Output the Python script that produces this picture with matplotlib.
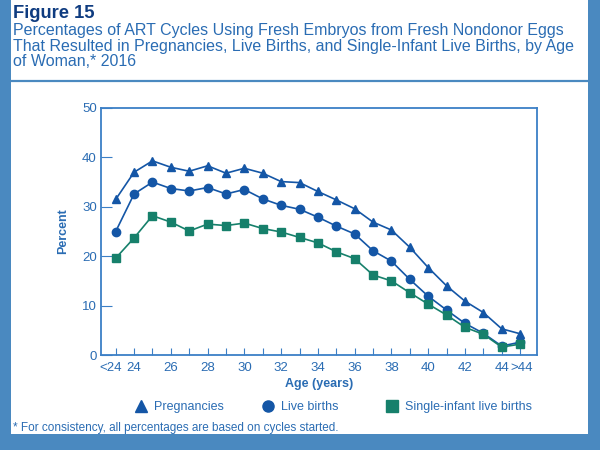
import matplotlib
matplotlib.use("Agg")
import matplotlib.pyplot as plt
from matplotlib.lines import Line2D
from matplotlib.patches import Rectangle
from matplotlib.transforms import ScaledTranslation

plt.rcParams['font.family'] = ['Liberation Sans', 'DejaVu Sans']

ages = ["<24", "24", "25", "26", "27", "28", "29", "30", "31", "32", "33", "34",
        "35", "36", "37", "38", "39", "40", "41", "42", "43", "44", ">44"]
shown_labels = ["<24", "24", "26", "28", "30", "32", "34", "36", "38", "40", "42", "44", ">44"]
pregnancies = [31.5, 37.0, 39.3, 38.0, 37.2, 38.3, 36.8, 37.8, 36.8, 35.1, 34.9, 33.1,
               31.4, 29.6, 26.9, 25.3, 21.8, 17.7, 14.0, 10.9, 8.6, 5.3, 4.3]
live_births = [25.0, 32.6, 35.0, 33.7, 33.2, 33.9, 32.6, 33.5, 31.6, 30.3, 29.5, 27.9,
               26.1, 24.5, 21.1, 19.0, 15.3, 11.9, 9.1, 6.4, 4.4, 1.8, 2.6]
single_births = [19.6, 23.7, 28.2, 26.9, 25.1, 26.5, 26.2, 26.7, 25.6, 24.9, 23.8, 22.7,
                 20.9, 19.5, 16.2, 15.0, 12.6, 10.3, 8.1, 5.6, 4.2, 1.6, 2.2]
series_names = ['Pregnancies', 'Live births', 'Single-infant live births']

BORDER = '#4a89c0'
TEXT = '#2a6cb3'
SPINE = '#3b7fc6'
DARK = '#1456a6'
GREEN = '#16806b'

fig = plt.figure(figsize=(6, 4.5), dpi=100, facecolor=BORDER)
fig.patches.append(Rectangle((11/600, 1-434/450), 577/600, 434/450,
                             transform=fig.transFigure, facecolor='white',
                             edgecolor='none', zorder=-10))
fig.add_artist(Line2D([11/600, 588/600], [1-81/450, 1-81/450],
                      transform=fig.transFigure, color=BORDER, lw=1.6))

fig.text(13/600, 1-13/450, "Figure 15", fontsize=13.2, fontweight='bold',
         color='#0f3c80', va='center', ha='left')
title = ("Percentages of ART Cycles Using Fresh Embryos from Fresh Nondonor Eggs\n"
         "That Resulted in Pregnancies, Live Births, and Single-Infant Live Births, by Age\n"
         "of Woman,* 2016")
fig.text(13/600, 1-23/450, title, fontsize=11.5, color=TEXT, va='top', ha='left',
         linespacing=1.06)

ax = fig.add_axes([101/600, 1-355/450, 436/600, 247/450])
ax.set_zorder(5)
ax.patch.set_alpha(0)
x = list(range(len(ages)))
ax.plot(x, pregnancies, color=DARK, lw=1.2, marker='^', ms=6.2, label=series_names[0])
ax.plot(x, live_births, color=DARK, lw=1.2, marker='o', ms=6.0, label=series_names[1])
ax.plot(x, single_births, color=GREEN, lw=1.2, marker='s', ms=6.0,
        markeredgecolor=GREEN, label=series_names[2])

ax.set_xlim(-0.8, 22.92)
ax.set_ylim(0, 50)
ax.set_yticks([0, 10, 20, 30, 40, 50])
ax.set_xticks(x)
ax.set_xticklabels([a if a in shown_labels else "" for a in ages])
for s in ax.spines.values():
    s.set_color(SPINE)
    s.set_linewidth(1.3)
ax.tick_params(axis='y', direction='in', length=8, width=0.8, color=SPINE,
               labelcolor=TEXT, labelsize=9.5, pad=3)
ax.tick_params(axis='x', direction='in', length=5, width=0.8, color=SPINE,
               labelcolor=TEXT, labelsize=9.5, pad=5)
labs = ax.get_xticklabels()
labs[0].set_transform(labs[0].get_transform() + ScaledTranslation(-5/100, 0, fig.dpi_scale_trans))
labs[-1].set_transform(labs[-1].get_transform() + ScaledTranslation(2/100, 0, fig.dpi_scale_trans))
ax.set_xlabel("Age (years)", fontsize=9, fontweight='bold', color=TEXT, labelpad=3)
ax.set_ylabel("Percent", fontsize=9, fontweight='bold', color=TEXT, labelpad=9)

handles = [Line2D([], [], color=DARK, marker='^', ls='none', ms=8),
           Line2D([], [], color=DARK, marker='o', ls='none', ms=8),
           Line2D([], [], color=GREEN, marker='s', ls='none', ms=8)]
anchors = [135, 262, 386]
for h, name, ax_x in zip(handles, series_names, anchors):
    fig.legend([h], [name], loc='center left', bbox_to_anchor=(ax_x/600, 1-407/450),
               frameon=False, borderpad=0, borderaxespad=0,
               handlelength=1.0, handletextpad=0.5,
               prop={'size': 9}, labelcolor=TEXT)

fig.text(13/600, 1-428/450, "* For consistency, all percentages are based on cycles started.",
         fontsize=8.5, color=TEXT, va='center', ha='left')

fig.savefig("out.png", dpi=100, facecolor=BORDER)
